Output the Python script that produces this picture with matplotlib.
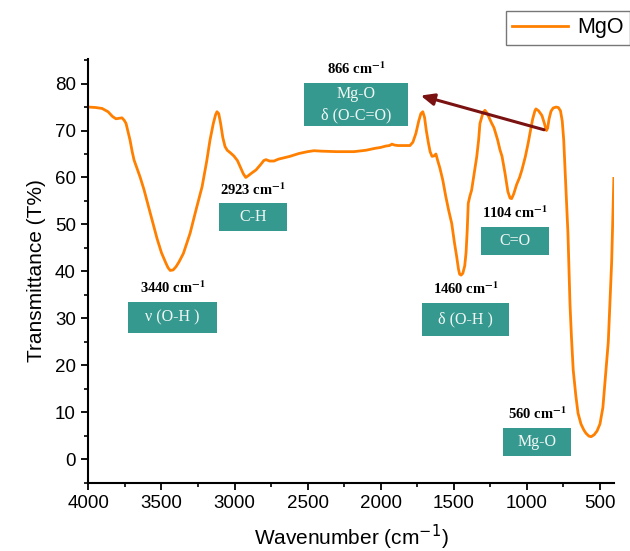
import numpy as np
import matplotlib.pyplot as plt
from matplotlib.patches import Rectangle

wavenumber = [4000, 3950, 3906, 3865, 3835, 3811, 3790, 3770, 3755, 3742, 3715, 3700, 3687, 3665,
              3646, 3620, 3590, 3560, 3530, 3500, 3470, 3455, 3440, 3420, 3400, 3380, 3350, 3304,
              3260, 3222, 3190, 3168, 3145, 3130, 3120, 3108, 3095, 3080, 3065, 3050, 3030, 3005,
              2980, 2960, 2940, 2923, 2905, 2880, 2853, 2820, 2800, 2785, 2760, 2730, 2700, 2660,
              2621, 2560, 2500, 2457, 2400, 2300, 2183, 2100, 2040, 2000, 1964, 1940, 1923, 1905,
              1882, 1840, 1800, 1780, 1759, 1740, 1725, 1712, 1700, 1688, 1675, 1662, 1649, 1635,
              1622, 1610, 1595, 1575, 1555, 1535, 1514, 1495, 1480, 1468, 1460, 1450, 1438, 1425,
              1416, 1408, 1401, 1390, 1378, 1360, 1343, 1330, 1321, 1300, 1287, 1270, 1255, 1240,
              1225, 1200, 1185, 1170, 1150, 1130, 1115, 1104, 1090, 1070, 1050, 1034, 1010, 990,
              979, 960, 945, 938, 920, 897, 880, 870, 866, 858, 848, 835, 820, 800, 785, 770, 758,
              748, 738, 728, 719, 712, 705, 695, 683, 665, 650, 630, 610, 595, 575, 560, 540, 520,
              500, 480, 459, 443, 432, 420, 412, 405]
transmittance = [75.0, 74.9, 74.7, 74.0, 73.0, 72.5, 72.6, 72.7, 72.2, 71.5, 68.0, 65.5, 63.7, 61.8,
                 60.1, 57.5, 54.0, 50.5, 47.0, 44.0, 41.8, 40.8, 40.2, 40.3, 41.0, 42.0, 43.8, 48.1,
                 53.5, 58.0, 63.5, 67.9, 71.5, 73.3, 74.0, 73.6, 71.5, 68.5, 66.6, 65.8, 65.3, 64.6,
                 63.6, 62.2, 60.8, 60.0, 60.4, 61.0, 61.6, 62.8, 63.6, 63.8, 63.5, 63.5, 63.9, 64.2,
                 64.5, 65.1, 65.5, 65.7, 65.6, 65.5, 65.5, 65.8, 66.2, 66.4, 66.7, 66.8, 67.1, 66.9,
                 66.8, 66.8, 66.8, 67.5, 69.4, 72.0, 73.6, 74.0, 72.8, 70.0, 67.6, 65.5, 64.5, 64.6,
                 65.0, 63.6, 62.0, 59.4, 56.0, 53.0, 50.2, 46.0, 43.1, 40.5, 39.4, 39.2, 39.6, 41.2,
                 44.0, 48.8, 54.5, 56.0, 57.3, 61.0, 64.4, 68.0, 71.5, 73.8, 74.3, 73.6, 72.5, 71.5,
                 70.6, 68.0, 66.0, 64.5, 61.0, 57.0, 55.6, 55.5, 56.5, 58.5, 60.0, 61.6, 64.5, 67.5,
                 69.4, 72.5, 74.2, 74.6, 74.2, 73.2, 71.5, 70.3, 70.0, 70.5, 72.5, 74.1, 74.8, 75.0,
                 74.9, 74.2, 72.0, 68.0, 61.0, 54.0, 48.1, 40.3, 33.0, 26.0, 19.0, 13.5, 9.8, 7.5,
                 6.2, 5.5, 4.9, 4.8, 5.2, 6.0, 7.5, 11.0, 19.0, 25.0, 33.2, 42.0, 52.0, 59.8]

# peak labels and their boxes (data units)
band_names = ['ν (O-H )', 'C-H', 'Mg-O\nδ (O-C=O)', 'δ (O-H )', 'C=O', 'Mg-O']
band_labels = ['3440', '2923', '866', '1460', '1104', '560']
box_left = [3728, 3104, 2525, 1717, 1314, 1164]
box_right = [3119, 2641, 1813, 1122, 849, 699]
box_bottom = [26.8, 48.6, 70.9, 26.3, 43.5, 0.7]
box_top = [33.5, 54.5, 80.1, 33.3, 49.5, 6.7]

plt.rcParams['font.family'] = ['Liberation Sans', 'DejaVu Sans']

fig = plt.figure(figsize=(6.3, 5.51), dpi=100)
ax = fig.add_axes([0.1402, 0.124, 0.8344, 0.7695])

line, = ax.plot(wavenumber, transmittance, color='#ff8000', lw=2.0, label='MgO')

for name, lab, x0, x1, y0, y1 in zip(band_names, band_labels, box_left, box_right, box_bottom, box_top):
    ax.add_patch(Rectangle((x1, y0), x0 - x1, y1 - y0, facecolor='#36998f', edgecolor='none', zorder=3))
    ax.text((x0 + x1) / 2, (y0 + y1) / 2, name, color='#f2f8f6', ha='center', va='center',
            family='Liberation Serif', fontsize=11.5, linespacing=1.5, zorder=4)
    ax.text((x0 + x1) / 2, y1 + 1.2, lab + r' cm$^{\mathbf{-1}}$', color='black', ha='center',
            va='bottom', family='Liberation Serif', fontweight='bold', fontsize=10.5,
            math_fontfamily='stix', zorder=4)

ax.annotate('', xy=(1745, 77.6), xytext=(864, 70.0),
            arrowprops=dict(arrowstyle='-|>,head_length=0.8,head_width=0.35', color='#7a1212', lw=2.2))

ax.set_xlim(4000, 404)
ax.set_ylim(-5, 85.3)
ax.set_xticks([4000, 3500, 3000, 2500, 2000, 1500, 1000, 500])
ax.set_xticks(np.arange(3750, 400, -500), minor=True)
ax.set_yticks(np.arange(0, 81, 10))
ax.set_yticks(np.arange(-5, 86, 5), minor=True)
ax.tick_params(which='major', direction='out', length=5, width=1.3, labelsize=13.5, pad=4)
ax.tick_params(which='minor', direction='out', length=3, width=1.2)
for s in ['top', 'right']:
    ax.spines[s].set_visible(False)
for s in ['left', 'bottom']:
    ax.spines[s].set_linewidth(1.5)

ax.set_xlabel('Wavenumber (cm$^{-1}$)', fontsize=15, math_fontfamily='dejavusans', labelpad=8)
ax.set_ylabel('Transmittance (T%)', fontsize=15, labelpad=6)

fig.legend(handles=[line], loc='upper right', bbox_to_anchor=(1.0, 0.98), fontsize=15.5,
           frameon=True, fancybox=False, edgecolor='#555555', handlelength=2.6,
           borderpad=0.3, handletextpad=0.4, borderaxespad=0)

fig.savefig('out.png', dpi=100)
